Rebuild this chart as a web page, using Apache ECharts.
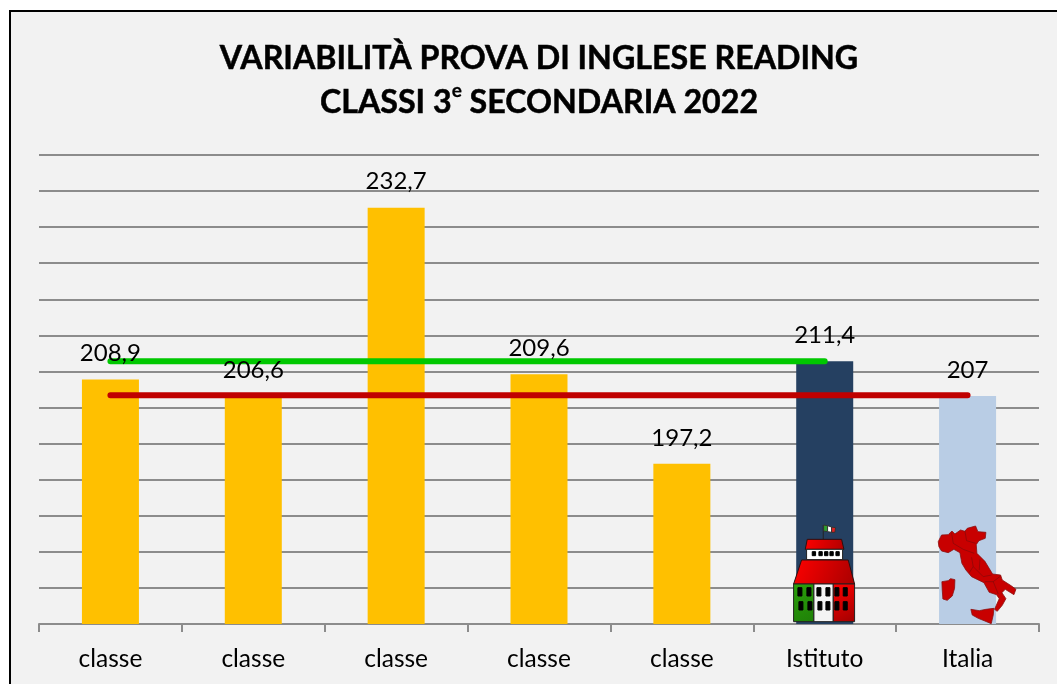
<!DOCTYPE html>
<html><head><meta charset="utf-8">
<style>html,body{margin:0;padding:0;background:#fff;overflow:hidden}#c{width:1057px;height:684px}</style>
<script src="https://cdn.jsdelivr.net/npm/echarts@6/dist/echarts.min.js"></script>
</head><body><div id="c"></div>
<script>
const categories = ['classe','classe','classe','classe','classe','Istituto','Italia'];
const values = [208.9,206.6,232.7,209.6,197.2,211.4,206.6];
const valueLabels = ['208,9','206,6','232,7','209,6','197,2','211,4','207'];
const barColors = ['#FFC000','#FFC000','#FFC000','#FFC000','#FFC000','#254061','#B9CDE5'];
const istitutoLine = [211.4,211.4,211.4,211.4,211.4,211.4,null];
const italiaLine = [206.7,206.7,206.7,206.7,206.7,206.7,206.7];
const iconCategories = [5,6];
const axisMin = 175, axisMax = 240, axisStep = 5;
const FONT = 'Lato';

const chart = echarts.init(document.getElementById('c'), null, {renderer:'canvas'});

function buildingIcon(x0,y0){
  const P = (zx,zy)=>[x0+(zx-134.4)/3, y0+(zy-327)/3];
  const poly=(pts,fill,stroke)=>({type:'polygon',shape:{points:pts.map(p=>P(p[0],p[1]))},style:{fill,stroke:stroke||'#2a1010',lineWidth:1}});
  const rect=(a,b,c,d,fill,stroke)=>poly([[a,b],[c,b],[c,d],[a,d]],fill,stroke||fill);
  const grad=(a,b)=>new echarts.graphic.LinearGradient(0,0,1,1,[{offset:0,color:a},{offset:1,color:b}]);
  const kids=[];
  kids.push({type:'polyline',shape:{points:[P(130,30),P(130,72)]},style:{stroke:'#222',lineWidth:1,fill:'none'}});
  kids.push(poly([[131,30],[143,32],[143,50],[131,48]],'#2E9E2E','#333'));
  kids.push(poly([[143,32],[155,36],[155,52],[143,50]],'#fff','#333'));
  kids.push(poly([[155,36],[167,38],[165,52],[155,52]],'#E02020','#333'));
  kids.push(poly([[82,73],[185,73],[192,103],[76,103]],grad('#FF0000','#B00000')));
  kids.push(rect(80,103,188,134,'#fff','#222'));
  [97,117,134,150,168].forEach(x=>kids.push(rect(x,110,x+10,122,'#000')));
  kids.push(poly([[65,135],[205,135],[224,207],[41,207]],grad('#FF0000','#A80000')));
  kids.push(rect(41,207,102,320,grad('#2BA00B','#1F8008'),'#222'));
  kids.push(rect(102,207,160,320,'#F4F4F4','#222'));
  kids.push(rect(160,207,224,320,grad('#FF0000','#A00000'),'#222'));
  [[54,218],[81,218],[57,260],[84,260],[111,218],[138,218],[114,260],[138,260],[165,218],[190,218],[165,260],[190,260]]
    .forEach(w=>kids.push(rect(w[0],w[1],w[0]+12,w[1]+25,'#000')));
  return kids;
}
function italyIcon(x0,y0){
  const P = p=>[x0+(p[0]-113)/3, y0+(p[1]-312)/3];
  const land=pts=>({type:'polygon',shape:{points:pts.map(P)},style:{fill:'#C80000',stroke:'#8a1010',lineWidth:0.8}});
  const seam=pts=>({type:'polyline',shape:{points:pts.map(P)},style:{stroke:'#7a0a0a',lineWidth:0.6,fill:'none'}});
  return [
    land([[25,65],[35,45],[55,44],[66,33],[75,42],[92,30],[105,34],[112,25],[137,18],[144,35],[168,37],[166,55],[147,62],[139,74],[141,100],[165,124],[188,162],[212,165],[217,180],[245,198],[258,208],[252,224],[226,208],[216,218],[228,236],[217,256],[202,274],[194,268],[208,236],[200,224],[178,217],[162,188],[125,170],[108,150],[96,130],[90,98],[72,88],[55,98],[35,93],[27,80]]),
    land([[36,185],[55,182],[62,176],[75,179],[74,205],[67,228],[52,241],[39,237],[37,210]]),
    land([[123,268],[148,272],[168,268],[192,265],[190,285],[184,311],[165,303],[145,295],[127,285]]),
    seam([[65,38],[70,70],[100,88],[133,100]]),
    seam([[105,32],[110,62],[137,70]]),
    seam([[125,112],[130,140],[118,158]]),
    seam([[130,140],[160,170],[185,165]]),
    seam([[150,118],[148,150]]),
    seam([[165,185],[190,185],[212,168]]),
    seam([[190,185],[205,222]])
  ];
}

chart.setOption({
  animation:false,
  backgroundColor:'#ffffff',
  graphic:[{type:'rect',z:-10,silent:true,shape:{x:10,y:11,width:1200,height:900},style:{fill:'#F2F2F2',stroke:'#000',lineWidth:2}}],
  title:{
    left:534, top:32, textAlign:'center',
    text:'{a|VARIABILITÀ PROVA DI INGLESE READING}\n{a|CLASSI 3}{s|e}{a| SECONDARIA 2022}',
    textStyle:{
      rich:{
        a:{fontFamily:FONT,fontWeight:'bold',fontSize:32.2,color:'#000',lineHeight:44,textBorderColor:'#000',textBorderWidth:0.5},
        s:{fontFamily:FONT,fontWeight:'bold',fontSize:19,color:'#000',lineHeight:44,verticalAlign:'top',padding:[0,0,14,0],textBorderColor:'#000',textBorderWidth:0.3}
      }
    }
  },
  grid:{left:39,right:18,top:155,bottom:60},
  xAxis:{type:'category',data:categories,boundaryGap:true,
    axisLine:{lineStyle:{color:'#8C8C8C',width:2}},
    axisTick:{show:true,length:8,alignWithLabel:false,lineStyle:{color:'#8C8C8C',width:2}},
    axisLabel:{fontFamily:FONT,fontSize:24.5,color:'#000',margin:23,interval:0},
    splitLine:{show:false}},
  yAxis:{type:'value',min:axisMin,max:axisMax,interval:axisStep,
    axisLine:{show:false},axisTick:{show:false},axisLabel:{show:false},
    splitLine:{show:true,lineStyle:{color:'#8C8C8C',width:2}}},
  series:[
    {type:'bar',name:'Punteggio',data:values.map((v,i)=>({value:v,itemStyle:{color:barColors[i]}})),barWidth:57,z:2,silent:true},
    {type:'line',name:'Media Istituto',data:istitutoLine,showSymbol:false,symbol:'none',z:3,silent:true,connectNulls:false,
      lineStyle:{color:'#00C800',width:6,cap:'round'}},
    {type:'line',name:'Media Italia',data:italiaLine,showSymbol:false,symbol:'none',z:3,silent:true,
      lineStyle:{color:'#C00000',width:6,cap:'round'}},
    {type:'custom',name:'Icone',z:4,silent:true,clip:false,data:iconCategories.map(i=>[i]),encode:{x:0},
      renderItem:(p,api)=>{
        const c=api.value(0); const pt=api.coord([c,axisMin]);
        return {type:'group',children:c===5?buildingIcon(pt[0],pt[1]):italyIcon(pt[0],pt[1])};
      }},
    {type:'scatter',name:'Etichette',data:values,symbolSize:0,z:6,silent:true,clip:false,itemStyle:{opacity:1},
      label:{show:true,position:'top',distance:14,fontFamily:FONT,fontSize:24,color:'#000',opacity:1,
        formatter:p=>valueLabels[p.dataIndex]}}
  ]
});
</script></body></html>
